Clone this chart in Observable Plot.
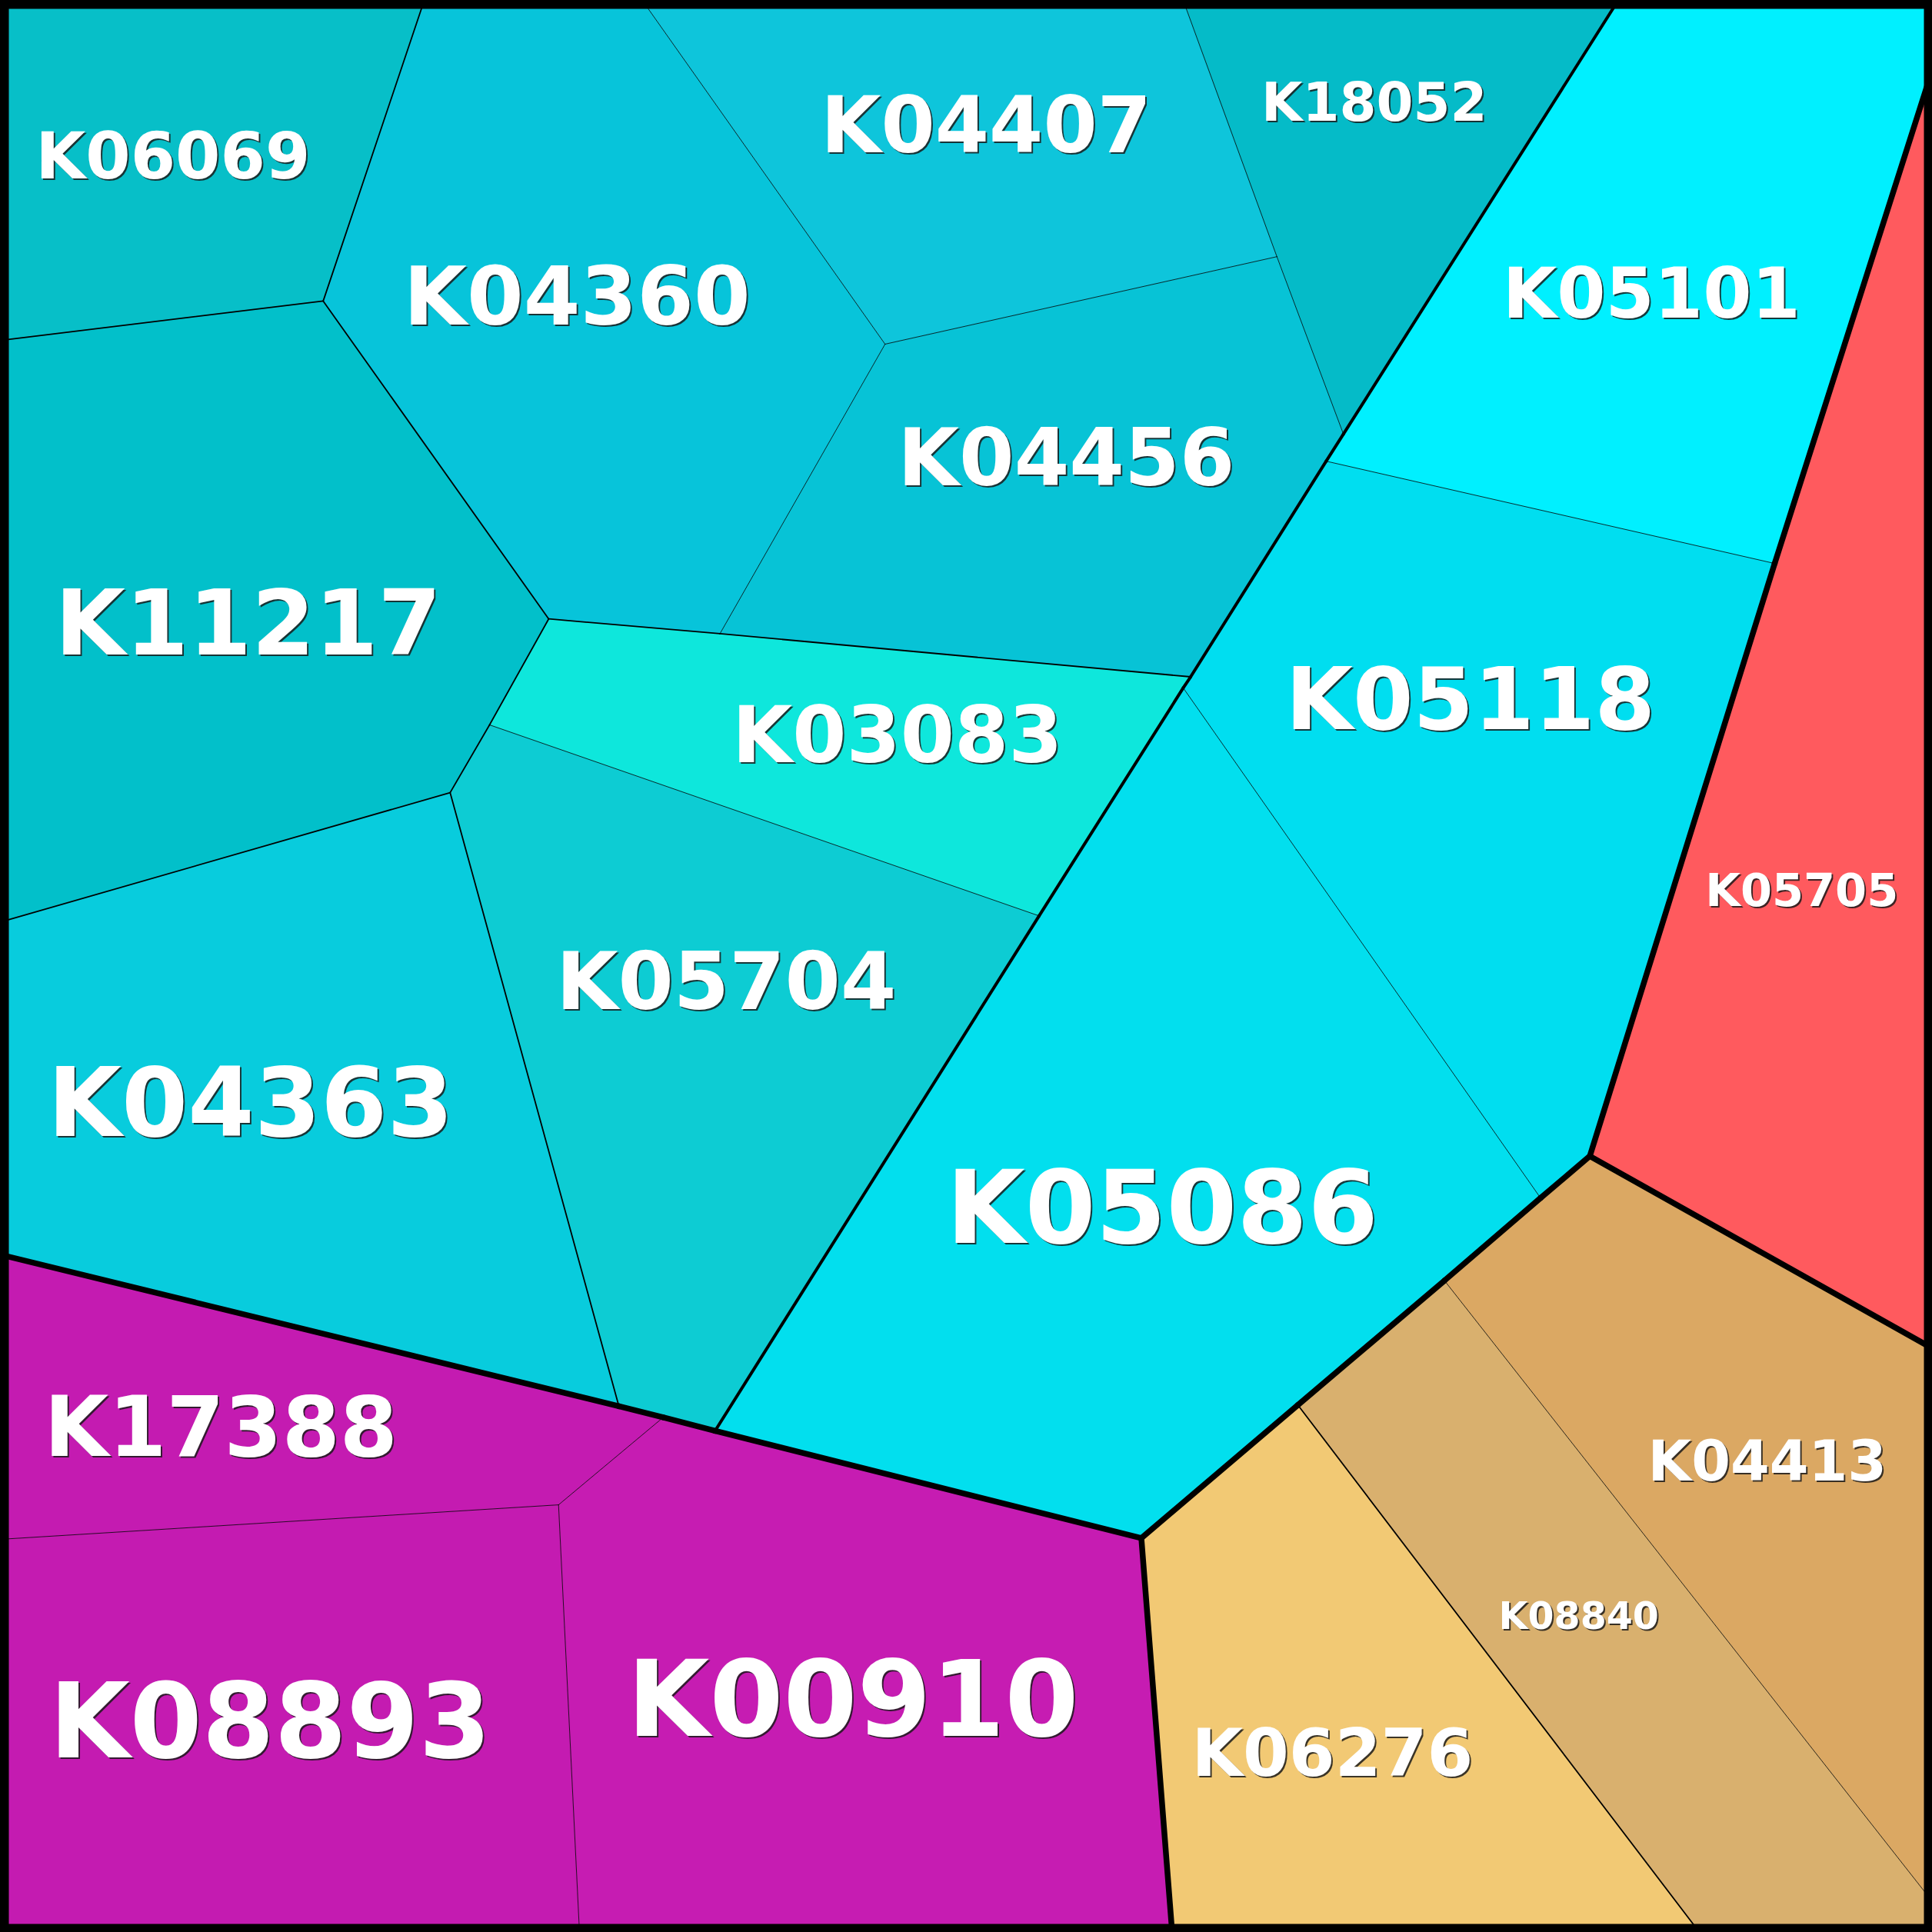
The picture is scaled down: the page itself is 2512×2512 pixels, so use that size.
<!DOCTYPE html>
<html><head><meta charset="utf-8">
<script src="https://cdn.jsdelivr.net/npm/d3@7"></script>
<script src="https://cdn.jsdelivr.net/npm/@observablehq/plot@0.6"></script>
<style>html,body{margin:0;padding:0;background:#fff}svg{display:block}</style>
</head><body><div id="chart"></div>
<script>
// ---- Voronoi treemap geometry (data units 0..1568) ----
const vertexIds = ["a","b","c","d","e","f","g","h","i","j","k","l","m","n","o","p","q","r","s","t","u","v","w","x","y","z","A","B","C","D","E","F","G","H","I","J","K","L","M","N"];
const vertexX   = [0,344,262,0,445,521,718,960,1036,584,1090,1313,1568,1568,1076,1440,966,397,365,0,843,960,1250,1290,1568,502,580,926,0,538,453,0,470,951,1172,1053,1379,1568,0,1568];
const vertexY   = [0,0,244,276,502,0,279,0,208,514,352,0,0,56,374,457,549,588,643,748,743,558,972,938,1094,1141,1161,1248,1018,1150,1221,1249,1568,1568,1039,1140,1568,1543,1568,1568];

// ---- cells ----
const cellNames   = ["K06069","K04360","K04407","K18052","K04456","K11217","K03083","K05704","K04363","K05101","K05118","K05086","K05705","K04413","K08840","K06276","K17388","K08893","K00910"];
const cellGroups  = ["A/A1/a","A/A1/c","A/A1/c","A/A1/c","A/A1/c","A/A1/b","A/A1/d","A/A1/d","A/A1/e","A/A2/f","A/A2/f","A/A2/f","D/D1/j","C/C1/i","C/C1/i","C/C1/h","B/B1/g","B/B1/g","B/B1/g"];
const cellColors  = ["#07BFC8","#07C4DA","#0EC5DB","#05BBC8","#07C3D6","#02C0CA","#0EE7DC","#0DCCD3","#08CCDD","#00F0FF","#00DEF0","#02DFEE","#FF5A5E","#DBA863","#D9B06E","#F2C974","#C41BB1","#C41BB1","#C61CB2"];
const cellOutlines= ["abcd","bfgjec","fhig","hlki","gikoqj","dcerst","ejqvur","ruADzs","tszC","lmnpok","opxwvq","vwIJBAu","nyxp","xyLIw","ILNKJ","JKHB","CzDEF","FEGM","DABHGE"];
// Voronoi generator sites (label anchors)
const siteX       = [140,468,800,1115,865,201,728,589,203,1340,1193,943,1462,1434,1281,1081,179,219,692];
const siteY       = [128,242,103,84,373,507,598,798,897,239,569,982,723,1187,1312,1424,1160,1399,1381];
const labelSizes  = [84,106,101,69,103,118,101,104,124,91,113,132,59,73,49,86,108,135,138];

const borderWidths = [7.5, 4, 1.8, 0.8];

const pos = new Map(vertexIds.map((id, i) => [id, [vertexX[i], vertexY[i]]]));

// polygon rows
const polyRows = [];
cellNames.forEach((name, ci) => {
  for (const v of cellOutlines[ci]) {
    const [x, y] = pos.get(v);
    polyRows.push({cell: name, color: cellColors[ci], x, y});
  }
});

// shared edges -> stroke width by depth of common ancestor
const edgeMap = new Map();
cellOutlines.forEach((outline, ci) => {
  const vs = outline.split("");
  vs.forEach((v, k) => {
    const w = vs[(k + 1) % vs.length];
    const key = [v, w].sort().join("|");
    if (!edgeMap.has(key)) edgeMap.set(key, {a: v, b: w, cells: []});
    edgeMap.get(key).cells.push(ci);
  });
});
function commonDepth(p, q) {
  const A = p.split("/"), B = q.split("/");
  let d = 0;
  while (d < A.length && A[d] === B[d]) d++;
  return d;
}
const edges = [];
for (const e of edgeMap.values()) {
  if (e.cells.length < 2) continue;
  const d = commonDepth(cellGroups[e.cells[0]], cellGroups[e.cells[1]]);
  const [x1, y1] = pos.get(e.a), [x2, y2] = pos.get(e.b);
  edges.push({x1, y1, x2, y2, w: borderWidths[Math.min(d, 3)]});
}
edges.sort((a, b) => a.w - b.w);

const labels = cellNames.map((name, ci) => ({name, x: siteX[ci], y: siteY[ci], size: labelSizes[ci]}));

const chart = Plot.plot({
  width: 2512,
  height: 2512,
  margin: 0,
  x: {domain: [0, 1568], range: [0, 2512], axis: null},
  y: {domain: [0, 1568], range: [0, 2512], axis: null},
  color: {type: "identity"},
  style: {fontFamily: "'DejaVu Sans', sans-serif", background: "#fff"},
  marks: [
    Plot.line(polyRows, {x: "x", y: "y", z: "cell", fill: "color", stroke: "color", strokeWidth: 0.5, curve: "linear-closed"}),
    Plot.link(edges, {x1: "x1", y1: "y1", x2: "x2", y2: "y2", stroke: "black", strokeWidth: "w", strokeLinecap: "round"}),
    Plot.text(labels, {x: "x", y: "y", text: "name", fontSize: "size", fontWeight: "bold", fill: "#1a1a1a", fillOpacity: 0.85, dx: 2, dy: 2}),
    Plot.text(labels, {x: "x", y: "y", text: "name", fontSize: "size", fontWeight: "bold", fill: "white"}),
    Plot.frame({stroke: "black", strokeWidth: 22})
  ]
});
document.getElementById("chart").append(chart);
</script>
</body></html>
